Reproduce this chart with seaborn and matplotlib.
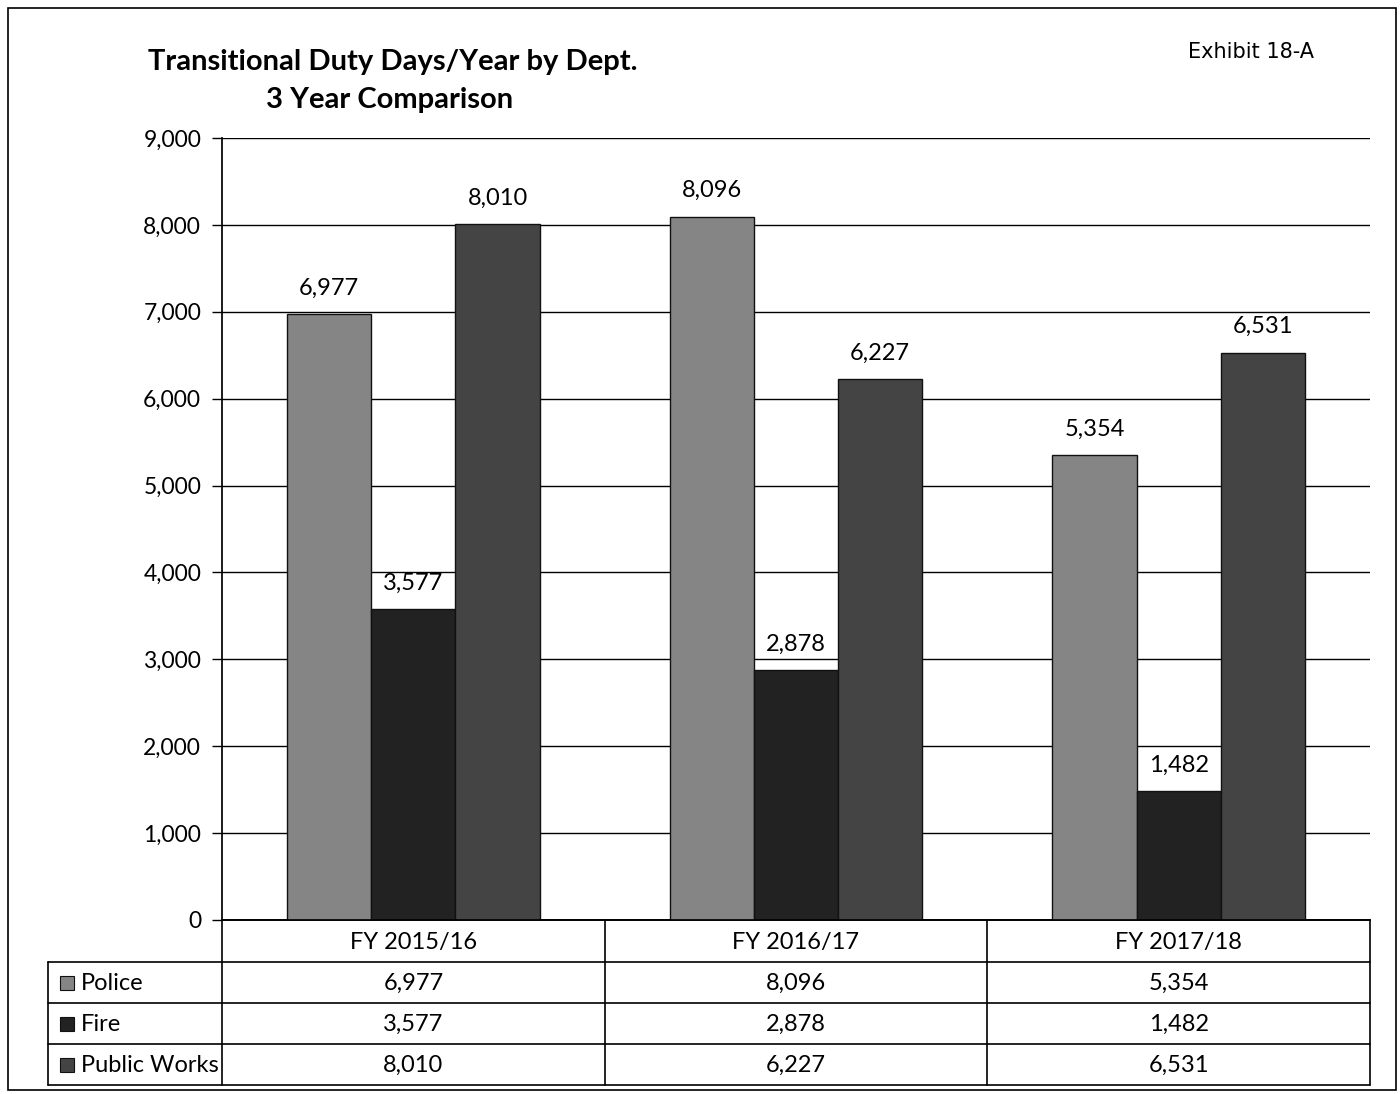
import numpy as np
import pandas as pd
import matplotlib
matplotlib.use('Agg')
import matplotlib.pyplot as plt
import seaborn as sns
from matplotlib.patches import Rectangle

# valores
anos = ['FY 2015/16', 'FY 2016/17', 'FY 2017/18']
deptos = ['Police', 'Fire', 'Public Works']
police = [6977, 8096, 5354]
fire = [3577, 2878, 1482]
public_works = [8010, 6227, 6531]
cores = ['#858585', '#222222', '#444444']

df = pd.DataFrame({
    'ano': anos * 3,
    'depto': [d for d in deptos for _ in anos],
    'dias': police + fire + public_works,
})

sns.set_theme(style='white')
plt.rcParams['font.family'] = ['Lato', 'DejaVu Sans']
plt.rcParams['text.color'] = 'black'
plt.rcParams['ytick.color'] = 'black'
plt.rcParams['ytick.labelcolor'] = 'black'

W, H = 1400, 1094
fig = plt.figure(figsize=(14, 10.94), dpi=100)

# area do grafico (em pixels)
x0, x1, y0, y1 = 222, 1370, 138, 920
ax = fig.add_axes([x0 / W, 1 - y1 / H, (x1 - x0) / W, (y1 - y0) / H])

sns.barplot(data=df, x='ano', y='dias', hue='depto', hue_order=deptos,
            palette=cores, width=0.66, edgecolor='#111111', linewidth=1,
            ax=ax, legend=False, zorder=3)

for c in ax.containers:
    ax.bar_label(c, labels=[f'{v:,.0f}' for v in c.datavalues],
                 padding=11, fontsize=17, color='black')

ax.set_ylim(0, 9000)
ax.set_xlim(-0.5, 2.5)
ax.set_yticks(range(0, 9001, 1000))
ax.set_yticklabels([f'{v:,}' for v in range(0, 9001, 1000)], fontsize=16.5)
ax.set_xticks([])
ax.set_xlabel('')
ax.set_ylabel('')
ax.yaxis.grid(True, color='black', linewidth=1)
ax.set_axisbelow(True)
ax.tick_params(axis='y', left=True, length=7, width=1, color='black', pad=8)
for s in ['top', 'right']:
    ax.spines[s].set_visible(False)
ax.spines['left'].set_color('black')
ax.spines['bottom'].set_color('black')

# camada em pixels para tabela, titulo e moldura
ov = fig.add_axes([0, 0, 1, 1], zorder=5)
ov.set_xlim(0, W)
ov.set_ylim(H, 0)
ov.axis('off')
ov.patch.set_alpha(0)

ov.add_patch(Rectangle((8, 8), 1388, 1082, fill=False, edgecolor='black', lw=1.2))

ov.text(393, 62, 'Transitional Duty Days/Year by Dept.', ha='center', va='center',
        fontsize=21, fontweight='bold')
ov.text(390, 100, '3 Year Comparison', ha='center', va='center',
        fontsize=21, fontweight='bold')
ov.text(1251, 52, 'Exhibit 18-A', ha='center', va='center', fontsize=15,
        family='DejaVu Sans')

# tabela de dados
col_w = (x1 - x0) / len(anos)
lab_x = 48
linhas_y = [920, 962, 1003, 1044, 1085]
lw = 1.2
ov.plot([x0, x1], [linhas_y[0], linhas_y[0]], color='black', lw=lw)
for yy in linhas_y[1:]:
    ov.plot([lab_x, x1], [yy, yy], color='black', lw=lw)
for i in range(len(anos) + 1):
    xx = x0 + i * col_w
    ov.plot([xx, xx], [linhas_y[0], linhas_y[-1]], color='black', lw=lw)
ov.plot([lab_x, lab_x], [linhas_y[1], linhas_y[-1]], color='black', lw=lw)

for i, a in enumerate(anos):
    ov.text(x0 + (i + 0.5) * col_w, (linhas_y[0] + linhas_y[1]) / 2 + 1, a,
            ha='center', va='center', fontsize=17)

valores = [police, fire, public_works]
for r, (d, vals, cor) in enumerate(zip(deptos, valores, cores)):
    yc = (linhas_y[r + 1] + linhas_y[r + 2]) / 2 + 1
    ov.add_patch(Rectangle((60, yc - 8), 14, 14, facecolor=cor, edgecolor='#111111', lw=0.8))
    ov.text(81, yc, d, ha='left', va='center', fontsize=17)
    for i, v in enumerate(vals):
        ov.text(x0 + (i + 0.5) * col_w, yc, f'{v:,}', ha='center', va='center', fontsize=17)

fig.savefig('out.png', dpi=100, facecolor='white')
